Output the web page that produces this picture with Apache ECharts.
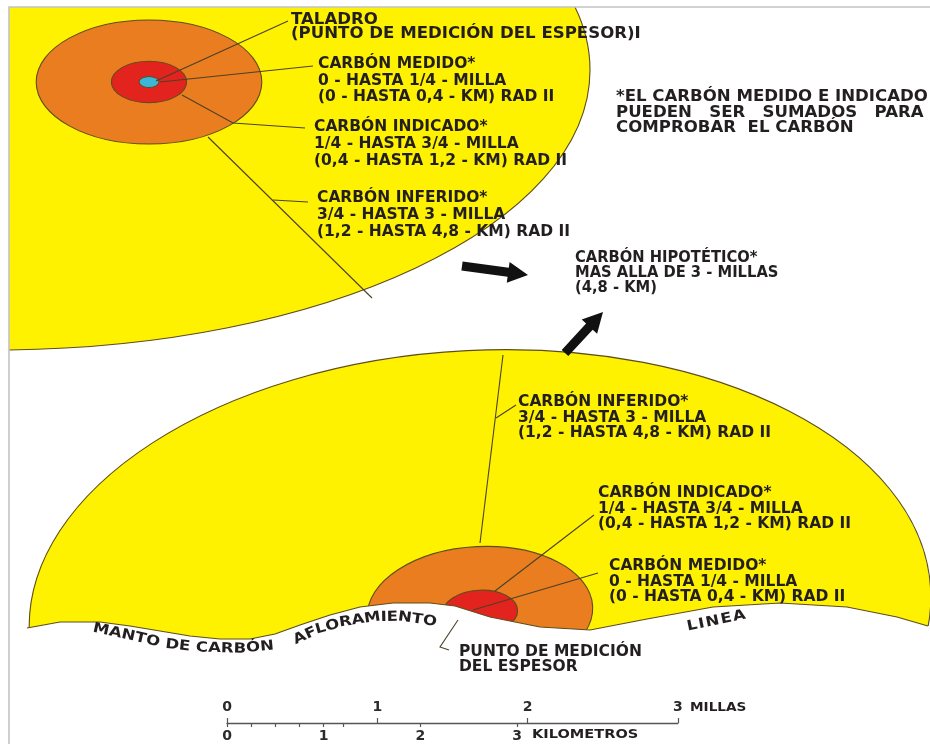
<!DOCTYPE html>
<html>
<head>
<meta charset="utf-8">
<script src="https://cdn.jsdelivr.net/npm/echarts@6.0.0/dist/echarts.min.js"></script>
<style>
html,body{margin:0;padding:0;background:#ffffff;}
#chart{width:930px;height:744px;}
</style>
</head>
<body>
<div id="chart"></div>
<script>
// ================= DATA (values & texts) =================
const zoneNames = ['CARBÓN MEDIDO*', 'CARBÓN INDICADO*', 'CARBÓN INFERIDO*'];
const zoneRadiusKm = [0.4, 1.2, 4.8];
const zoneMilesText = ['0 - HASTA 1/4 - MILLA', '1/4 - HASTA 3/4 - MILLA', '3/4 - HASTA 3 - MILLA'];
const zoneKmText = ['(0 - HASTA 0,4 - KM) RAD II', '(0,4 - HASTA 1,2 - KM) RAD II', '(1,2 - HASTA 4,8 - KM) RAD II'];
const hypotheticalText = ['CARBÓN HIPOTÉTICO*', 'MAS ALLA DE 3 - MILLAS', '(4,8 - KM)'];
const noteText = ['*EL CARBÓN MEDIDO E INDICADO', 'PUEDEN   SER   SUMADOS   PARA', 'COMPROBAR  EL CARBÓN'];
const drillText = ['TALADRO', '(PUNTO DE MEDICIÓN DEL ESPESOR)I'];
const thicknessPointText = ['PUNTO DE MEDICIÓN', 'DEL ESPESOR'];
const outcropWords = ['MANTO DE CARBÓN', 'AFLORAMIENTO', 'LINEA'];
const scaleMiles = [0, 1, 2, 3];
const scaleKmLabels = [0, 1, 2, 3];
const scaleKmTicks = [0, 0.25, 0.5, 0.75, 1, 1.2, 2, 3];
const scaleUnits = ['MILLAS', 'KILOMETROS'];

// ================= LAYOUT (diagram geometry, in diagram units) =================
const layout = {
  unitsPerKm: 94,
  figures: [
    { center: [149, 82], squash: 0.55, rotation: 0,
      outerOverride: { center: [-5, 70], rx: 595, ry: 280 },
      drill: [10, 5.5] },
    { center: [480, 612], squash: 0.58, rotation: 0.05 }
  ],
  outcrop: [[27,628],[60,622],[100,622],[130,626],[160,631],[190,636],[220,639],[250,639],[275,634],
            [300,625],[330,615],[360,607],[393,603],[430,603],[455,606],[490,617],[540,627],[590,630],
            [647,619],[713,607],[780,603],[847,607],[897,617],[928,626]],
  frame: [[9,744],[9,7],[930,7]],
  leaders: [
    [[156,81],[288,21]],
    [[160,82],[313,66]],
    [[182,95],[233,123],[305,128]],
    [[208,137],[372,298]],
    [[273,200],[308,202]],
    [[503,355],[480,543]],
    [[496,418],[516,405]],
    [[495,591],[594,515]],
    [[473,610],[598,573]],
    [[458,620],[440,647],[449,650]]
  ],
  arrows: [ [[462,266],[528,275]], [[565,353],[603,312]] ],
  blocks: [
    { lines: drillText, at: [291, 19.5], lh: 14.5, sx: 1.07 },
    { lines: [zoneNames[0], zoneMilesText[0], zoneKmText[0]], at: [318, 64], lh: 16.7 },
    { lines: [zoneNames[1], zoneMilesText[1], zoneKmText[1]], at: [314, 127], lh: 17 },
    { lines: [zoneNames[2], zoneMilesText[2], zoneKmText[2]], at: [317, 198], lh: 17 },
    { lines: noteText, at: [616, 97], lh: 15.5, sx: 1.07 },
    { lines: hypotheticalText, at: [575, 258], lh: 15, sx: 0.95 },
    { lines: [zoneNames[2], zoneMilesText[2], zoneKmText[2]], at: [518, 402], lh: 15.5 },
    { lines: [zoneNames[1], zoneMilesText[1], zoneKmText[1]], at: [598, 493], lh: 15.5 },
    { lines: [zoneNames[0], zoneMilesText[0], zoneKmText[0]], at: [609, 566], lh: 15.5 },
    { lines: thicknessPointText, at: [459, 652], lh: 15 },
    { lines: [scaleUnits[0]], at: [690, 707.5], lh: 14, size: 13, sx: 1.05 },
    { lines: [scaleUnits[1]], at: [532, 735], lh: 14, size: 13, sx: 1.12 }
  ],
  curved: [
    { text: outcropWords[0], size: 14, sx: 1.18, spacing: 0,
      path: [[93,628],[130,636],[165,644],[200,648],[240,649],[282,645]] },
    { text: outcropWords[1], size: 14, sx: 1.18, spacing: 0,
      path: [[294,641],[320,629],[345,622],[375,617.5],[400,617],[422,620],[445,624]] },
    { text: outcropWords[2], size: 14, sx: 1.18, spacing: 1.3,
      path: [[687,627],[750,614]] }
  ],
  scale: { origin: 227, top: 700, lineY: 723, mileWidth: 150.3, kmWidth: 96.7 }
};

// ================= STYLE =================
const FONT = '"DejaVu Sans", "Liberation Sans", sans-serif';
const INK = '#231f20';
const LEAD = '#4a4128';
const EDGE = '#5e4d1c';
const zoneFill = ['#E3241E', '#E97D1F', '#FFF200'];
const drillFill = '#3DB7D8';

const measureCtx = document.createElement('canvas').getContext('2d');

// ================= RENDERERS =================
function renderZone(params, api) {
  const fig = api.value(0), zi = api.value(1);
  const F = layout.figures[fig];
  let c, rx, ry, rot = F.rotation, fill;
  if (zi < 0) {
    c = api.coord(F.center);
    rx = api.size([F.drill[0], 0])[0];
    ry = api.size([0, F.drill[1]])[1];
    fill = drillFill;
  } else if (zi === zoneRadiusKm.length - 1 && F.outerOverride) {
    c = api.coord(F.outerOverride.center);
    rx = api.size([F.outerOverride.rx, 0])[0];
    ry = api.size([0, F.outerOverride.ry])[1];
    rot = 0;
    fill = zoneFill[zi];
  } else {
    c = api.coord(F.center);
    rx = api.size([zoneRadiusKm[zi] * layout.unitsPerKm, 0])[0];
    ry = rx * F.squash;
    fill = zoneFill[zi];
  }
  return {
    type: 'ellipse', x: c[0], y: c[1], rotation: rot,
    shape: { cx: 0, cy: 0, rx: rx, ry: ry },
    style: { fill: fill, stroke: EDGE, lineWidth: 1.1 }
  };
}

function renderGround(params, api) {
  const line = layout.outcrop.map(p => api.coord(p));
  const first = layout.outcrop[0], last = layout.outcrop[layout.outcrop.length - 1];
  const cover = [api.coord([0, first[1]])].concat(line, [api.coord([935, last[1]]), api.coord([935, 750]), api.coord([0, 750])]);
  return {
    type: 'group',
    children: [
      { type: 'polygon', shape: { points: cover }, style: { fill: '#ffffff', stroke: null } },
      { type: 'polyline', shape: { points: line }, style: { stroke: EDGE, lineWidth: 1.2, fill: null } },
      { type: 'polyline', shape: { points: layout.frame.map(p => api.coord(p)) }, style: { stroke: '#c3c3c3', lineWidth: 1.6, fill: null } }
    ]
  };
}

function renderLeader(params, api) {
  const pts = layout.leaders[params.dataIndex].map(p => api.coord(p));
  return { type: 'polyline', shape: { points: pts }, style: { stroke: LEAD, lineWidth: 1.1, fill: null } };
}

function renderArrow(params, api) {
  const a = layout.arrows[params.dataIndex];
  const T = api.coord(a[0]), P = api.coord(a[1]);
  const dx = P[0] - T[0], dy = P[1] - T[1], len = Math.hypot(dx, dy);
  const ux = dx / len, uy = dy / len, nx = -uy, ny = ux;
  const w = 4.5, h = 10.5, L = 20;
  const B = [P[0] - ux * L, P[1] - uy * L];
  const pts = [
    [T[0] + nx * w, T[1] + ny * w], [B[0] + nx * w, B[1] + ny * w], [B[0] + nx * h, B[1] + ny * h],
    P, [B[0] - nx * h, B[1] - ny * h], [B[0] - nx * w, B[1] - ny * w], [T[0] - nx * w, T[1] - ny * w]
  ];
  return { type: 'polygon', shape: { points: pts }, style: { fill: '#111111', stroke: null } };
}

function renderBlock(params, api) {
  const b = layout.blocks[params.dataIndex];
  const p = api.coord(b.at);
  const size = b.size || 15.5;
  return {
    type: 'text', x: p[0], y: p[1] - b.lh / 2, scaleX: b.sx || 1,
    style: {
      text: b.lines.join('\n'), fill: INK,
      font: 'bold ' + size + 'px ' + FONT,
      align: 'left', verticalAlign: 'top', lineHeight: b.lh
    }
  };
}

function renderCurved(params, api) {
  const c = layout.curved[params.dataIndex];
  const pts = c.path.map(p => api.coord(p));
  const font = 'bold ' + c.size + 'px ' + FONT;
  measureCtx.font = 'bold ' + c.size + 'px "DejaVu Sans"';
  const segs = [];
  let total = 0;
  for (let i = 1; i < pts.length; i++) {
    const len = Math.hypot(pts[i][0] - pts[i - 1][0], pts[i][1] - pts[i - 1][1]);
    segs.push({ a: pts[i - 1], b: pts[i], s0: total, len: len });
    total += len;
  }
  const chars = Array.from(c.text);
  const children = [];
  let s = 0;
  chars.forEach(ch => {
    const w = measureCtx.measureText(ch).width * c.sx;
    const mid = s + w / 2;
    s += w + c.spacing;
    if (ch === ' ') return;
    let sg = segs[segs.length - 1];
    for (const g of segs) { if (mid <= g.s0 + g.len) { sg = g; break; } }
    const t = (mid - sg.s0) / sg.len;
    const x = sg.a[0] + (sg.b[0] - sg.a[0]) * t;
    const y = sg.a[1] + (sg.b[1] - sg.a[1]) * t;
    const ang = Math.atan2(sg.b[1] - sg.a[1], sg.b[0] - sg.a[0]);
    children.push({
      type: 'text', x: x, y: y, rotation: -ang, scaleX: c.sx,
      style: { text: ch, font: font, fill: INK, align: 'center', verticalAlign: 'middle' }
    });
  });
  return { type: 'group', children: children };
}

// ================= DATA FOR SERIES =================
const zoneItems = [];
layout.figures.forEach((F, fi) => {
  for (let zi = zoneRadiusKm.length - 1; zi >= 0; zi--) zoneItems.push([fi, zi]);
  if (F.drill) zoneItems.push([fi, -1]);
});
const idx = arr => arr.map((_, i) => [i, 0]);

const S = layout.scale;
const scaleLabelStyle = { color: '#2b2b2b', fontWeight: 'bold', fontSize: 14, fontFamily: FONT };

const option = {
  backgroundColor: '#ffffff',
  animation: false,
  grid: [
    { left: 9, top: 7, right: 0, bottom: 0, outerBoundsMode: 'none' },
    { left: S.origin, top: S.top, width: S.mileWidth * 3, height: S.lineY - S.top, outerBoundsMode: 'none' },
    { left: S.origin, top: S.top, width: S.kmWidth * 3, height: S.lineY - S.top, outerBoundsMode: 'none' }
  ],
  xAxis: [
    { gridIndex: 0, type: 'value', min: 9, max: 930, show: false },
    { gridIndex: 1, type: 'value', min: 0, max: 3, interval: 1, z: 10,
      axisLine: { show: true, onZero: false, lineStyle: { color: '#555555', width: 1.3 } },
      axisTick: { show: true, inside: true, length: 5, lineStyle: { color: '#555555', width: 1.2 }, customValues: scaleMiles },
      axisLabel: Object.assign({ show: true, inside: true, margin: 9, customValues: scaleMiles }, scaleLabelStyle),
      splitLine: { show: false } },
    { gridIndex: 2, type: 'value', min: 0, max: 3, interval: 1, z: 10,
      axisLine: { show: false, onZero: false },
      axisTick: { show: true, inside: false, length: 4, lineStyle: { color: '#555555', width: 1.2 }, customValues: scaleKmTicks },
      axisLabel: Object.assign({ show: true, margin: 6, customValues: scaleKmLabels }, scaleLabelStyle),
      splitLine: { show: false } }
  ],
  yAxis: [
    { gridIndex: 0, type: 'value', min: 7, max: 744, inverse: true, show: false },
    { gridIndex: 1, type: 'value', min: 0, max: 1, show: false },
    { gridIndex: 2, type: 'value', min: 0, max: 1, show: false }
  ],
  series: [
    { type: 'custom', name: 'zones', xAxisIndex: 0, yAxisIndex: 0, clip: true, z: 1, silent: true,
      renderItem: renderZone, data: zoneItems },
    { type: 'custom', name: 'ground', xAxisIndex: 0, yAxisIndex: 0, z: 2, silent: true,
      renderItem: renderGround, data: [[0, 0]] },
    { type: 'custom', name: 'leaders', xAxisIndex: 0, yAxisIndex: 0, z: 3, silent: true,
      renderItem: renderLeader, data: idx(layout.leaders) },
    { type: 'custom', name: 'arrows', xAxisIndex: 0, yAxisIndex: 0, z: 3, silent: true,
      renderItem: renderArrow, data: idx(layout.arrows) },
    { type: 'custom', name: 'texts', xAxisIndex: 0, yAxisIndex: 0, z: 4, silent: true,
      renderItem: renderBlock, data: idx(layout.blocks) },
    { type: 'custom', name: 'curvedTexts', xAxisIndex: 0, yAxisIndex: 0, z: 4, silent: true,
      renderItem: renderCurved, data: idx(layout.curved) }
  ]
};

const chart = echarts.init(document.getElementById('chart'), null, { renderer: 'canvas' });
chart.setOption(option);
</script>
</body>
</html>
